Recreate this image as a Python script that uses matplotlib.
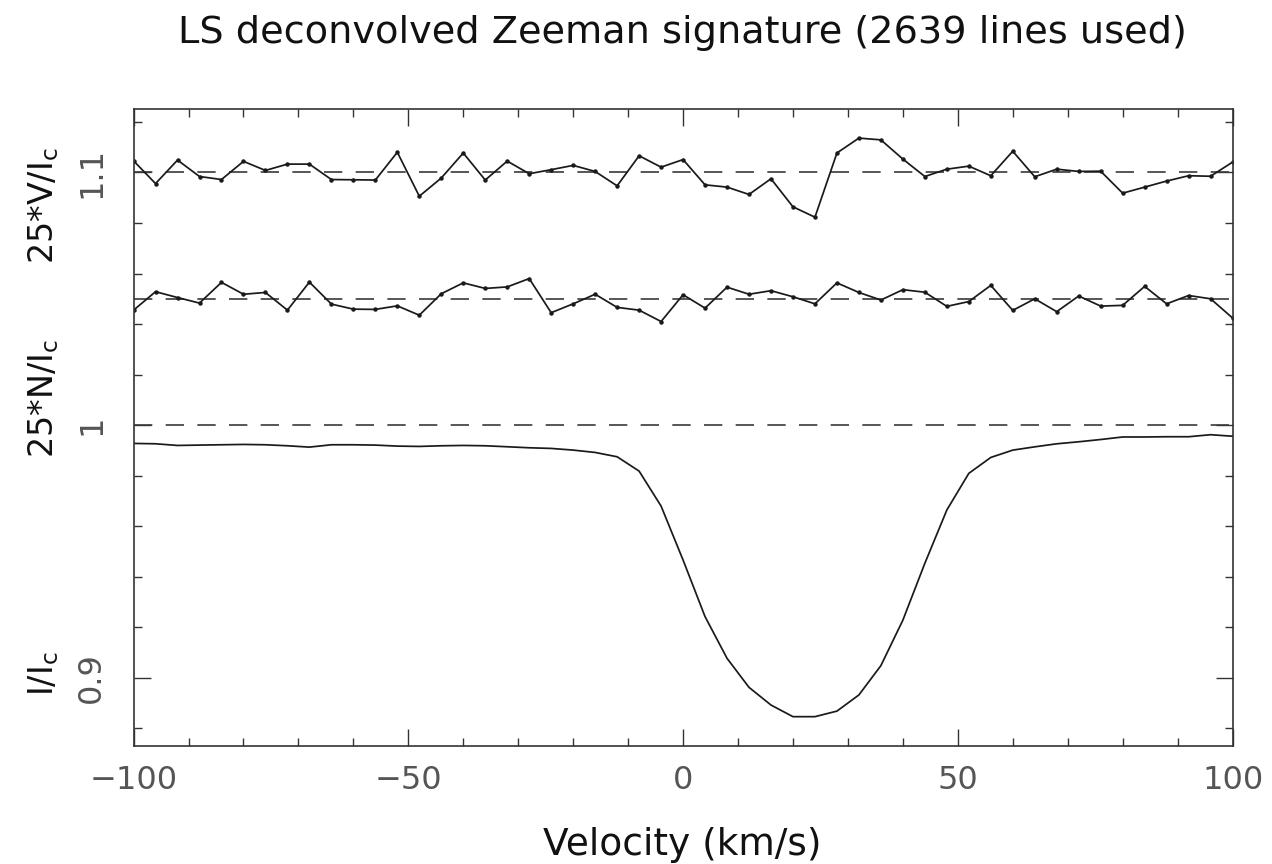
import numpy as np
import matplotlib
matplotlib.use("Agg")
import matplotlib.pyplot as plt
import matplotlib.transforms as mtransforms
from matplotlib.ticker import MultipleLocator

plt.rcParams['font.family'] = ['DejaVu Sans']

# velocity grid of the LSD profiles (km/s)
velocity = np.arange(-100, 101, 4)

# Stokes I / Ic
stokes_i = [0.99275, 0.99261, 0.99195, 0.99209, 0.99222, 0.99235, 0.99222, 0.99182,
            0.99129, 0.99222, 0.99222, 0.99209, 0.99169, 0.99156, 0.99182, 0.99195,
            0.99182, 0.99143, 0.99103, 0.99077, 0.99011, 0.98918, 0.98747, 0.98180,
            0.96795, 0.9466, 0.9242, 0.9077, 0.8962, 0.8892, 0.8846, 0.8846,
            0.8868, 0.8932, 0.9048, 0.9228, 0.9453, 0.9664, 0.9809, 0.9872,
            0.9901, 0.9914, 0.9926, 0.9934, 0.9943, 0.9953, 0.9953, 0.9954,
            0.9954, 0.9962, 0.9956]

# 25*V/Ic
stokes_v = [0.0046, -0.0044, 0.0049, -0.0016, -0.0028, 0.0044, 0.0008, 0.0033,
            0.0033, -0.0028, -0.0029, -0.0030, 0.0080, -0.0094, -0.0022, 0.0077,
            -0.0030, 0.0045, -0.0005, 0.0011, 0.0028, 0.0004, -0.0053, 0.0066,
            0.0021, 0.0051, -0.0049, -0.0058, -0.0087, -0.0025, -0.0136, -0.0177,
            0.0077, 0.0136, 0.0129, 0.0053, -0.0016, 0.0013, 0.0025, -0.0013,
            0.0084, -0.0017, 0.0013, 0.0004, 0.0005, -0.0082, -0.0058, -0.0034,
            -0.0013, -0.0015, 0.0041]

# 25*N/Ic
null_n = [-0.0045, 0.0028, 0.0005, -0.0017, 0.0065, 0.0018, 0.0025, -0.0045,
          0.0066, -0.0021, -0.0041, -0.0042, -0.0028, -0.0065, 0.0020, 0.0063,
          0.0041, 0.0047, 0.0080, -0.0055, -0.0020, 0.0018, -0.0034, -0.0045,
          -0.0090, 0.0016, -0.0037, 0.0046, 0.0018, 0.0032, 0.0008, -0.0020,
          0.0063, 0.0025, -0.0005, 0.0036, 0.0026, -0.0030, -0.0011, 0.0053,
          -0.0046, 0.0000, -0.0051, 0.0011, -0.0029, -0.0026, 0.0049, -0.0020,
          0.0013, 0.0000, -0.0076]

v_offset = 1.10
n_offset = 1.05

fig = plt.figure(figsize=(12.72, 8.64), dpi=100)
ax = fig.add_axes([0.105, 0.1366, 0.864, 0.7369])

line_col = '#1a1a1a'
dash_col = '#3a3a3a'

ax.axhline(1.0, color=dash_col, lw=1.2, dashes=(11, 8))
ax.axhline(n_offset, color=dash_col, lw=1.2, dashes=(11, 8))
ax.axhline(v_offset, color=dash_col, lw=1.2, dashes=(11, 8))

ax.plot(velocity, stokes_i, color=line_col, lw=1.25)
ax.plot(velocity, n_offset + np.array(null_n), color=line_col, lw=1.25,
        marker='o', ms=2.2, mec=line_col, mfc=line_col)
ax.plot(velocity, v_offset + np.array(stokes_v), color=line_col, lw=1.25,
        marker='o', ms=2.2, mec=line_col, mfc=line_col)

ax.set_xlim(-100, 100)
ax.set_ylim(0.873, 1.125)

ax.xaxis.set_major_locator(MultipleLocator(50))
ax.xaxis.set_minor_locator(MultipleLocator(10))
ax.yaxis.set_major_locator(MultipleLocator(0.1))
ax.yaxis.set_minor_locator(MultipleLocator(0.02))
ax.set_yticks([0.9, 1.0, 1.1])
ax.set_yticklabels(['0.9', '1', '1.1'], rotation=90, va='center')
ax.set_xticks([-100, -50, 0, 50, 100])
ax.set_xticklabels(['\u2212100', '\u221250', '0', '50', '100'])

ax.tick_params(which='both', direction='in', top=True, right=True,
               colors='#333333', labelcolor='#555555', width=1.0)
ax.tick_params(which='major', length=12, labelsize=23)
ax.tick_params(which='minor', length=6)
ax.tick_params(axis='x', which='major', pad=14)
ax.tick_params(axis='y', which='major', pad=19)
for s in ax.spines.values():
    s.set_linewidth(1.2)
    s.set_color('#333333')

# stacked y-axis labels, one per profile
trans = mtransforms.blended_transform_factory(fig.transFigure, ax.transData)
ylabels = [('$\\mathrm{25{*}V/I_c}$', 1.087),
           ('$\\mathrm{25{*}N/I_c}$', 1.0107),
           ('$\\mathrm{I/I_c}$', 0.9015)]
for txt, yv in ylabels:
    ax.text(0.034, yv, txt, transform=trans, rotation=90, ha='center',
            va='center', fontsize=24, color='#111111')

fig.text(0.5365, 1 - 43 / 864, 'LS deconvolved Zeeman signature (2639 lines used)',
         ha='center', va='baseline', fontsize=27.5, color='#111111')
fig.text(0.5365, 1 - 855 / 864, 'Velocity (km/s)', ha='center', va='baseline',
         fontsize=27, color='#111111')

fig.savefig('out.png', dpi=100)
